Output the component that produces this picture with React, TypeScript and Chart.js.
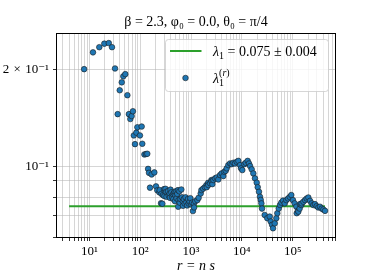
import React, { useEffect, useRef } from 'react';
import { Chart, registerables } from 'chart.js';

Chart.register(...registerables);

const FONT = "'Liberation Serif', 'DejaVu Serif', serif";

const TITLE = 'β = 2.3, φ₀ = 0.0, θ₀ = π/4';
const X_TITLE = 'r = n s';

const FIT_LAMBDA = 0.075;
const FIT_ERROR = 0.004;
const FIT_R_RANGE = [4, 430000];

const R_VALUES = [
  7.9, 11.8, 15.7, 19.7, 24.1, 27.9, 32, 36.1, 39.6, 43.4, 46.6, 51, 56, 60, 64, 68, 72, 75, 79, 84, 88, 99,
  107, 110, 121, 130, 138, 143, 149, 156, 168, 190, 205, 217, 238, 242, 257, 262, 273, 281, 294, 299, 308,
  315, 327, 330, 353, 365, 381, 385, 395, 410, 425, 443, 448, 460, 478, 483, 495, 514, 520, 535, 555, 560,
  567, 590, 600, 618, 645, 665, 689, 695, 720, 751, 780, 808, 840, 871, 900, 938, 970, 1010, 1050, 1090,
  1140, 1150, 1210, 1330, 1410, 1550, 1600, 1730, 1870, 2010, 2040, 2170, 2190, 2370, 2520, 2550, 2630,
  2750, 2970, 3200, 3440, 3720, 4010, 4320, 4520, 4810, 5030, 5420, 5850, 6310, 6790, 7330, 7920, 8520,
  9200, 9620, 10200, 11200, 11900, 13000, 13800, 14500, 15600, 16800, 18100, 19600, 20500, 21700, 22700,
  23500, 24200, 24900, 28100, 31600, 35300, 36900, 39200, 41000, 44300, 47600, 49800, 53100, 56300, 59700,
  64400, 69600, 74900, 80900, 87300, 93800, 101000, 109000, 118000, 120000, 127000, 129000, 137000, 139000,
  148000, 150000, 162000, 175000, 188000, 203000, 219000, 236000, 254000, 274000, 296000, 319000, 344000,
  372000, 400000, 432000,
];

const LAMBDA_VALUES = [
  0.2, 0.2255, 0.234, 0.24, 0.241, 0.234, 0.201, 0.145, 0.172, 0.182, 0.19, 0.193, 0.166, 0.145, 0.14, 0.143,
  0.148, 0.1245, 0.117, 0.127, 0.132, 0.1245, 0.1327, 0.1173, 0.1087, 0.109, 0.1092, 0.098, 0.0953, 0.0857,
  0.0942, 0.0956, 0.0865, 0.0841, 0.0829, 0.0842, 0.0767, 0.082, 0.0764, 0.0813, 0.0848, 0.0807, 0.0834,
  0.085, 0.0832, 0.0803, 0.0836, 0.081, 0.0822, 0.0797, 0.0845, 0.0829, 0.08, 0.0816, 0.079, 0.0825, 0.0832,
  0.0778, 0.081, 0.0836, 0.0794, 0.082, 0.0842, 0.0748, 0.0784, 0.0835, 0.077, 0.079, 0.0846, 0.08, 0.0778,
  0.0753, 0.079, 0.0765, 0.08, 0.0771, 0.0755, 0.079, 0.0765, 0.0775, 0.0795, 0.076, 0.077, 0.0725, 0.0765,
  0.0744, 0.0778, 0.0784, 0.0797, 0.0822, 0.0842, 0.0851, 0.086, 0.0873, 0.086, 0.0887, 0.0873, 0.0884,
  0.0905, 0.0896, 0.0879, 0.0905, 0.0916, 0.0922, 0.0909, 0.0938, 0.0949, 0.0931, 0.096, 0.0967, 0.0984,
  0.1007, 0.1019, 0.1014, 0.1024, 0.1019, 0.1031, 0.1038, 0.1007, 0.0984, 0.0972, 0.1014, 0.1024, 0.1038,
  0.1019, 0.1, 0.0977, 0.0949, 0.0916, 0.0888, 0.086, 0.0832, 0.0803, 0.0785, 0.0766, 0.0738, 0.0705,
  0.0689, 0.0697, 0.0673, 0.0657, 0.0641, 0.0664, 0.0689, 0.0714, 0.0738, 0.0757, 0.077, 0.0781, 0.0766,
  0.0784, 0.0793, 0.0802, 0.0813, 0.0784, 0.0766, 0.0748, 0.0714, 0.0727, 0.0722, 0.0738, 0.0762, 0.0757,
  0.0766, 0.0775, 0.0784, 0.0793, 0.0799, 0.078, 0.0766, 0.0757, 0.0762, 0.0751, 0.0744, 0.0748, 0.0738,
  0.0733, 0.0726,
];

const X_LIMITS = [2.21, 7.1e5];
const Y_LIMITS = [0.0598, 0.259];

const X_LABELED = [10, 100, 1000, 10000, 100000];
const X_LABELS = ['10¹', '10²', '10³', '10⁴', '10⁵'];
const Y_TICKS = [0.06, 0.07, 0.08, 0.09, 0.1, 0.2];
const Y_LABELED = [0.1, 0.2];
const Y_LABELS = ['10⁻¹', '2\u2004×\u200410⁻¹'];

const BLUE = '#1f77b4';
const GREEN = '#2ca02c';
const GRID = 'rgba(176,176,176,0.65)';

function findLabel(values: number[], labels: string[], v: number) {
  const i = values.findIndex((t) => Math.abs(t - v) / t < 1e-6);
  return i >= 0 ? labels[i] : '';
}

const framePlugin = {
  id: 'frame',
  afterDraw(chart: any) {
    const { ctx, chartArea: a } = chart;
    ctx.save();
    ctx.strokeStyle = '#000';
    ctx.lineWidth = 1;
    const l = Math.round(a.left) + 0.5;
    const t = Math.round(a.top) + 0.5;
    const r = Math.round(a.right) - 0.5;
    const b = Math.round(a.bottom) - 0.5;
    ctx.strokeRect(l, t, r - l, b - t);
    ctx.restore();
  },
};

const legendPlugin = {
  id: 'insideLegend',
  afterDatasetsDraw(chart: any) {
    const { ctx, chartArea } = chart;
    const w = 163;
    const h = 52;
    const x0 = Math.round(chartArea.right - 8 - w) + 0.5;
    const y0 = Math.round(chartArea.top + 6) + 0.5;
    ctx.save();
    ctx.beginPath();
    ctx.roundRect(x0, y0, w, h, 3);
    ctx.fillStyle = 'rgba(255,255,255,0.8)';
    ctx.fill();
    ctx.strokeStyle = 'rgba(204,204,204,0.8)';
    ctx.lineWidth = 1;
    ctx.stroke();

    const fitDs = chart.data.datasets[0];
    const ptDs = chart.data.datasets[1];
    const textX = x0 + 47.5;

    // row 1: fit line
    const r1 = y0 + 11.5;
    ctx.strokeStyle = fitDs.borderColor;
    ctx.lineWidth = 2;
    ctx.beginPath();
    ctx.moveTo(x0 + 4.5, r1);
    ctx.lineTo(x0 + 36, r1);
    ctx.stroke();

    ctx.fillStyle = '#000';
    ctx.textBaseline = 'alphabetic';
    ctx.textAlign = 'left';
    let tx = textX;
    const b1 = r1 + 4.5;
    ctx.font = `italic 14px ${FONT}`;
    ctx.fillText('λ', tx, b1);
    tx += ctx.measureText('λ').width;
    ctx.font = `10px ${FONT}`;
    ctx.fillText('1', tx, b1 + 3);
    tx += ctx.measureText('1').width;
    ctx.font = `14px ${FONT}`;
    ctx.fillText(` = ${FIT_LAMBDA.toFixed(3)} ± ${FIT_ERROR.toFixed(3)}`, tx, b1);

    // row 2: scatter marker
    const r2 = y0 + 38.5;
    ctx.beginPath();
    ctx.arc(x0 + 20, r2, ptDs.pointRadius, 0, Math.PI * 2);
    ctx.fillStyle = ptDs.backgroundColor;
    ctx.fill();
    ctx.strokeStyle = ptDs.borderColor;
    ctx.lineWidth = ptDs.borderWidth;
    ctx.stroke();

    ctx.fillStyle = '#000';
    tx = textX;
    const b2 = r2 + 4.5;
    ctx.font = `italic 14px ${FONT}`;
    ctx.fillText('λ', tx, b2);
    tx += ctx.measureText('λ').width;
    ctx.font = `10px ${FONT}`;
    ctx.fillText('1', tx, b2 + 3);
    ctx.fillText('(', tx, b2 - 7);
    let sx = tx + ctx.measureText('(').width;
    ctx.font = `italic 10px ${FONT}`;
    ctx.fillText('r', sx, b2 - 7);
    sx += ctx.measureText('r').width;
    ctx.font = `10px ${FONT}`;
    ctx.fillText(')', sx, b2 - 7);
    ctx.restore();
  },
};

export default function App() {
  const ref = useRef<HTMLCanvasElement>(null);

  useEffect(() => {
    const points = R_VALUES.map((r, i) => ({ x: r, y: LAMBDA_VALUES[i] }));
    const fitLine = FIT_R_RANGE.map((r) => ({ x: r, y: FIT_LAMBDA }));

    const chart = new Chart(ref.current as HTMLCanvasElement, {
      type: 'scatter',
      data: {
        datasets: [
          {
            type: 'line',
            label: 'λ₁ = 0.075 ± 0.004',
            data: fitLine,
            borderColor: GREEN,
            borderWidth: 2,
            pointRadius: 0,
            showLine: true,
            fill: false,
            order: 1,
          } as any,
          {
            label: 'λ₁⁽ʳ⁾',
            data: points,
            backgroundColor: BLUE,
            borderColor: '#1a1a1a',
            borderWidth: 0.6,
            pointRadius: 2.8,
            order: 0,
          },
        ],
      },
      options: {
        animation: false,
        responsive: false,
        devicePixelRatio: 1,
        layout: { padding: { left: 0, right: 38, top: 0, bottom: 0 } },
        plugins: {
          legend: { display: false },
          tooltip: { enabled: false },
          title: {
            display: true,
            text: TITLE,
            fullSize: false,
            color: '#000',
            font: { family: FONT, size: 14, weight: 'normal', lineHeight: 1 },
            padding: { top: 15, bottom: 4 },
          },
        },
        scales: {
          x: {
            type: 'logarithmic',
            min: X_LIMITS[0],
            max: X_LIMITS[1],
            afterBuildTicks: (scale: any) => {
              const ticks: any[] = [];
              for (let e = 0; e <= 6; e++) {
                for (let m = 1; m <= 9; m++) {
                  const v = m * Math.pow(10, e);
                  if (v >= scale.min && v <= scale.max) ticks.push({ value: v });
                }
              }
              scale.ticks = ticks;
            },
            afterFit: (scale: any) => {
              scale.height = 42;
            },
            ticks: {
              autoSkip: false,
              maxRotation: 0,
              padding: 3,
              color: '#000',
              font: { family: FONT, size: 13 },
              callback: (v: any) => findLabel(X_LABELED, X_LABELS, Number(v)),
            },
            grid: {
              color: GRID,
              lineWidth: 0.8,
              tickColor: '#000',
              tickLength: 3,
              tickWidth: 0.8,
            },
            border: { display: false },
            title: {
              display: true,
              text: X_TITLE,
              color: '#000',
              font: { family: FONT, size: 14, style: 'italic', lineHeight: 1.2 },
              padding: { top: 0, bottom: 5 },
            },
          },
          y: {
            type: 'logarithmic',
            min: Y_LIMITS[0],
            max: Y_LIMITS[1],
            afterBuildTicks: (scale: any) => {
              scale.ticks = Y_TICKS.filter((v) => v >= scale.min && v <= scale.max).map((v) => ({ value: v }));
            },
            afterFit: (scale: any) => {
              scale.width = 56;
            },
            ticks: {
              autoSkip: false,
              padding: 4,
              color: '#000',
              font: { family: FONT, size: 13 },
              callback: (v: any) => findLabel(Y_LABELED, Y_LABELS, Number(v)),
            },
            grid: {
              color: GRID,
              lineWidth: 0.8,
              tickColor: '#000',
              tickLength: 3,
              tickWidth: 0.8,
            },
            border: { display: false },
          },
        },
      },
      plugins: [legendPlugin, framePlugin],
    } as any);

    return () => chart.destroy();
  }, []);

  return (
    <div style={{ position: 'fixed', left: 0, top: 0, width: 374, height: 280, background: '#fff' }}>
      <canvas ref={ref} width={374} height={280} style={{ display: 'block', width: 374, height: 280 }} />
    </div>
  );
}
